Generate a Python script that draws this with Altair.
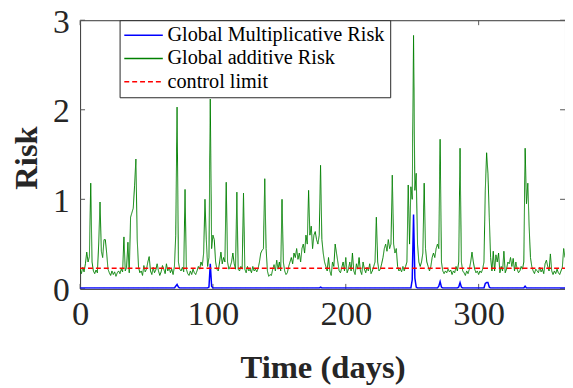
import altair as alt
import pandas as pd

series_names = ["Global Multiplicative Risk", "Global additive Risk", "control limit"]

additive = [
    0.22, 0.17, 0.24, 0.19, 0.28, 0.41, 0.30, 0.36, 1.18, 0.30,
    0.20, 0.17, 0.21, 0.18, 0.50, 0.97, 0.42, 0.35, 0.55, 0.55,
    0.40, 0.22, 0.18, 0.15, 0.20, 0.16, 0.19, 0.14, 0.18, 0.20,
    0.17, 0.22, 0.19, 0.58, 0.20, 0.24, 0.52, 0.18, 0.80, 0.85,
    0.90, 1.15, 1.45, 0.55, 0.24, 0.18, 0.20, 0.15, 0.26, 0.19,
    0.22, 0.30, 0.36, 0.20, 0.16, 0.24, 0.18, 0.21, 0.28, 0.20,
    0.15, 0.19, 0.26, 0.22, 0.17, 0.28, 0.20, 0.24, 0.18, 0.22,
    0.16, 0.25, 0.60, 2.03, 0.30, 0.22, 0.20, 0.24, 0.19, 1.11,
    0.22, 0.17, 0.15, 0.20, 0.16, 0.22, 0.18, 0.16, 0.20, 0.25,
    0.22, 0.30, 0.26, 0.40, 1.00, 0.55, 0.25, 0.35, 2.12, 0.45,
    0.60, 0.55, 0.30, 0.22, 0.20, 0.30, 0.41, 0.28, 0.35, 0.30,
    1.19, 0.30, 0.22, 0.25, 0.30, 0.40, 0.28, 0.22, 1.08, 0.22,
    0.20, 0.25, 0.22, 1.07, 0.22, 0.18, 0.25, 0.20, 0.22, 0.18,
    0.25, 0.20, 0.22, 0.19, 0.23, 0.30, 0.40, 0.43, 0.45, 1.23,
    0.45, 0.20, 0.14, 0.16, 0.15, 0.22, 0.27, 0.20, 0.32, 0.22,
    0.30, 0.20, 1.00, 0.30, 0.20, 0.16, 0.18, 0.25, 0.30, 0.35,
    0.28, 0.40, 0.35, 0.45, 0.33, 0.40, 0.30, 0.45, 0.50, 0.40,
    0.60, 0.50, 1.10, 0.60, 0.70, 0.45, 0.60, 0.64, 0.55, 0.50,
    0.60, 1.38, 0.55, 0.40, 0.30, 0.25, 0.20, 0.35, 0.20, 0.15,
    0.30, 0.25, 0.50, 0.40, 0.30, 0.20, 0.18, 0.24, 0.30, 0.20,
    0.35, 0.18, 0.22, 0.30, 0.20, 0.40, 0.20, 0.16, 0.28, 0.22,
    0.35, 0.20, 0.16, 0.30, 0.22, 0.18, 0.24, 0.20, 0.28, 0.17,
    0.20, 0.25, 0.30, 0.80, 0.30, 0.20, 0.22, 0.28, 0.35, 0.45,
    0.50, 0.42, 0.55, 0.45, 0.50, 1.27, 0.50, 0.40, 0.45, 0.25,
    0.20, 0.22, 0.19, 0.25, 0.20, 0.25, 0.30, 1.16, 0.50, 1.14,
    1.00, 2.83, 1.10, 1.29, 0.50, 0.30, 0.25, 0.30, 0.40, 1.18,
    0.45, 0.30, 0.25, 0.20, 0.25, 0.35, 0.40, 0.35, 0.45, 0.50,
    0.45, 1.67, 0.30, 0.20, 0.17, 0.20, 0.18, 0.22, 0.19, 0.21,
    0.16, 0.20, 0.18, 0.25, 0.20, 0.30, 1.57, 0.30, 0.20, 0.18,
    0.15, 0.20, 0.17, 0.22, 0.30, 0.41, 0.30, 0.22, 0.18, 0.20,
    0.16, 0.20, 0.18, 0.22, 0.30, 1.10, 1.52, 1.29, 0.80, 0.35,
    0.20, 0.42, 0.20, 0.38, 0.30, 0.40, 0.18, 0.25, 0.20, 0.42,
    0.18, 0.22, 0.30, 0.28, 0.35, 0.25, 0.34, 0.20, 0.30, 0.22,
    0.18, 0.20, 0.25, 0.22, 0.30, 1.57, 0.95, 1.18, 0.70, 0.35,
    0.25, 0.20, 0.17, 0.22, 0.20, 0.18, 0.24, 0.19, 0.22, 0.17,
    0.28, 0.32, 0.25, 0.20, 0.39, 0.20, 0.16, 0.20, 0.17, 0.22,
    0.18, 0.16, 0.20, 0.24, 0.45, 0.35,
]

multiplicative = [
    0.01, 0.01, 0.01, 0.01, 0.01, 0.01, 0.01, 0.01, 0.01, 0.01,
    0.01, 0.01, 0.01, 0.01, 0.01, 0.01, 0.01, 0.01, 0.01, 0.01,
    0.01, 0.01, 0.01, 0.01, 0.01, 0.01, 0.01, 0.01, 0.01, 0.01,
    0.01, 0.01, 0.01, 0.01, 0.01, 0.01, 0.01, 0.01, 0.01, 0.01,
    0.01, 0.01, 0.01, 0.01, 0.01, 0.01, 0.01, 0.01, 0.01, 0.01,
    0.01, 0.01, 0.01, 0.01, 0.01, 0.01, 0.01, 0.01, 0.01, 0.01,
    0.01, 0.01, 0.01, 0.01, 0.01, 0.01, 0.01, 0.01, 0.01, 0.01,
    0.01, 0.01, 0.03, 0.05, 0.02, 0.01, 0.01, 0.01, 0.01, 0.01,
    0.01, 0.01, 0.01, 0.01, 0.01, 0.01, 0.01, 0.01, 0.01, 0.01,
    0.01, 0.01, 0.01, 0.01, 0.01, 0.01, 0.01, 0.02, 0.28, 0.03,
    0.01, 0.01, 0.01, 0.01, 0.01, 0.01, 0.01, 0.01, 0.01, 0.01,
    0.01, 0.01, 0.01, 0.01, 0.01, 0.01, 0.01, 0.01, 0.01, 0.01,
    0.01, 0.01, 0.01, 0.01, 0.01, 0.01, 0.01, 0.01, 0.01, 0.01,
    0.01, 0.01, 0.01, 0.01, 0.01, 0.01, 0.01, 0.01, 0.01, 0.01,
    0.01, 0.01, 0.01, 0.01, 0.01, 0.01, 0.01, 0.01, 0.01, 0.01,
    0.01, 0.01, 0.01, 0.01, 0.01, 0.01, 0.01, 0.01, 0.01, 0.01,
    0.01, 0.01, 0.01, 0.01, 0.01, 0.01, 0.01, 0.01, 0.01, 0.01,
    0.01, 0.01, 0.01, 0.01, 0.01, 0.01, 0.01, 0.01, 0.01, 0.01,
    0.01, 0.02, 0.01, 0.01, 0.01, 0.01, 0.01, 0.01, 0.01, 0.01,
    0.01, 0.01, 0.01, 0.01, 0.01, 0.01, 0.01, 0.01, 0.01, 0.01,
    0.01, 0.01, 0.01, 0.01, 0.01, 0.01, 0.01, 0.01, 0.01, 0.01,
    0.01, 0.01, 0.01, 0.01, 0.01, 0.01, 0.01, 0.01, 0.01, 0.01,
    0.01, 0.01, 0.01, 0.01, 0.01, 0.01, 0.01, 0.01, 0.01, 0.01,
    0.01, 0.01, 0.01, 0.01, 0.01, 0.01, 0.01, 0.01, 0.01, 0.01,
    0.01, 0.01, 0.01, 0.01, 0.01, 0.01, 0.01, 0.01, 0.01, 0.01,
    0.10, 0.83, 0.12, 0.02, 0.01, 0.01, 0.01, 0.01, 0.01, 0.01,
    0.01, 0.01, 0.01, 0.01, 0.01, 0.01, 0.01, 0.01, 0.01, 0.01,
    0.03, 0.08, 0.02, 0.01, 0.01, 0.01, 0.01, 0.01, 0.01, 0.01,
    0.01, 0.01, 0.01, 0.01, 0.01, 0.02, 0.07, 0.02, 0.01, 0.01,
    0.01, 0.01, 0.01, 0.01, 0.01, 0.01, 0.01, 0.01, 0.01, 0.01,
    0.01, 0.01, 0.01, 0.01, 0.01, 0.06, 0.07, 0.07, 0.02, 0.01,
    0.01, 0.01, 0.01, 0.01, 0.01, 0.01, 0.01, 0.01, 0.01, 0.01,
    0.01, 0.01, 0.01, 0.01, 0.01, 0.01, 0.01, 0.01, 0.01, 0.01,
    0.01, 0.01, 0.01, 0.01, 0.01, 0.03, 0.01, 0.01, 0.01, 0.01,
    0.01, 0.01, 0.01, 0.01, 0.01, 0.01, 0.01, 0.01, 0.01, 0.01,
    0.01, 0.01, 0.01, 0.01, 0.01, 0.01, 0.01, 0.01, 0.01, 0.01,
    0.01, 0.01, 0.01, 0.01, 0.01, 0.01,
]

control_days = [0, 365]
control_value = 0.23

x_ticks = [0, 100, 200, 300]
y_ticks = [0, 1, 2, 3]

days = list(range(len(additive)))

rows = []
for d, v in zip(days, multiplicative):
    rows.append({"day": d, "risk": v, "series": series_names[0]})
for d, v in zip(days, additive):
    rows.append({"day": d, "risk": v, "series": series_names[1]})
for d in control_days:
    rows.append({"day": d, "risk": control_value, "series": series_names[2]})
df = pd.DataFrame(rows)

W, H = 491, 272
FONT = "Liberation Serif"
LFONT = "Liberation Serif, Times New Roman, serif"

legend = alt.Legend(
    title=None, orient="none", legendX=40, legendY=0,
    strokeColor="#262626", fillColor="white", padding=5,
    labelFont=LFONT, labelFontSize=20.5, labelColor="black",
    symbolType="M-1.4,0H3.8", symbolSize=225, symbolStrokeWidth=1.5,
    rowPadding=2.5, labelOffset=23, labelLimit=400,
)

xenc = alt.X("day:Q", title="Time (days)",
             scale=alt.Scale(domain=[0, 365], nice=False, zero=False),
             axis=alt.Axis(values=x_ticks, format="d", labelFlush=False,
                           titleY=90, titleBaseline="alphabetic"))
yenc = alt.Y("risk:Q", title="Risk",
             scale=alt.Scale(domain=[0, 3], nice=False),
             axis=alt.Axis(values=y_ticks, format="d", labelFlush=False,
                           labelOffset=2, labelFontSize=34,
                           titleX=-44, titleY=139,
                           titleBaseline="alphabetic", titleAngle=270))
color = alt.Color("series:N", scale=alt.Scale(domain=series_names,
                  range=["#0000ff", "#008000", "#ff0000"]), legend=legend)
dash = alt.StrokeDash("series:N", scale=alt.Scale(domain=series_names,
                      range=[[1, 0], [1, 0], [5, 3]]), legend=legend)

def line(name, width):
    return alt.Chart(df).transform_filter(alt.datum.series == name).mark_line(
        strokeWidth=width, clip=True).encode(x=xenc, y=yenc, color=color, strokeDash=dash)

blue = line(series_names[0], 1.5)
green = line(series_names[1], 1.0)
red = line(series_names[2], 1.3)

xt = pd.DataFrame({"t": x_ticks})
yt = pd.DataFrame({"t": y_ticks})
tick_color = "#555555"
xtick_enc = alt.X("t:Q", title="Time (days)")
ytick_enc = alt.Y("t:Q", title="Risk")
ticks_bottom = alt.Chart(xt).mark_rule(color=tick_color).encode(
    x=xtick_enc, y=alt.value(H), y2=alt.value(H - 5))
ticks_top = alt.Chart(xt).mark_rule(color=tick_color).encode(
    x=xtick_enc, y=alt.value(0), y2=alt.value(5))
ticks_left = alt.Chart(yt).mark_rule(color=tick_color).encode(
    y=ytick_enc, x=alt.value(0), x2=alt.value(5))
ticks_right = alt.Chart(yt).mark_rule(color=tick_color).encode(
    y=ytick_enc, x=alt.value(W), x2=alt.value(W - 5))

chart = alt.layer(
    ticks_bottom, ticks_top, ticks_left, ticks_right, blue, green, red
).properties(
    width=W, height=H,
    autosize=alt.AutoSizeParams(type="none"),
    padding={"left": 73, "top": 10, "right": 0, "bottom": 98},
).configure_view(
    stroke="#333333", strokeWidth=1
).configure_axis(
    grid=False, domain=False, ticks=False,
    labelFont=FONT, labelFontSize=35, labelColor="#262626",
    titleFont=FONT, titleFontSize=33, titleFontWeight="bold", titleColor="#262626",
).configure_axisX(
    labelPadding=8
).configure_axisY(
    labelPadding=11
).configure_legend(
    labelFont=LFONT, labelFontSize=20.5, labelColor="black"
)

chart.save("out.html", embed_options={"renderer": "svg", "actions": False})
